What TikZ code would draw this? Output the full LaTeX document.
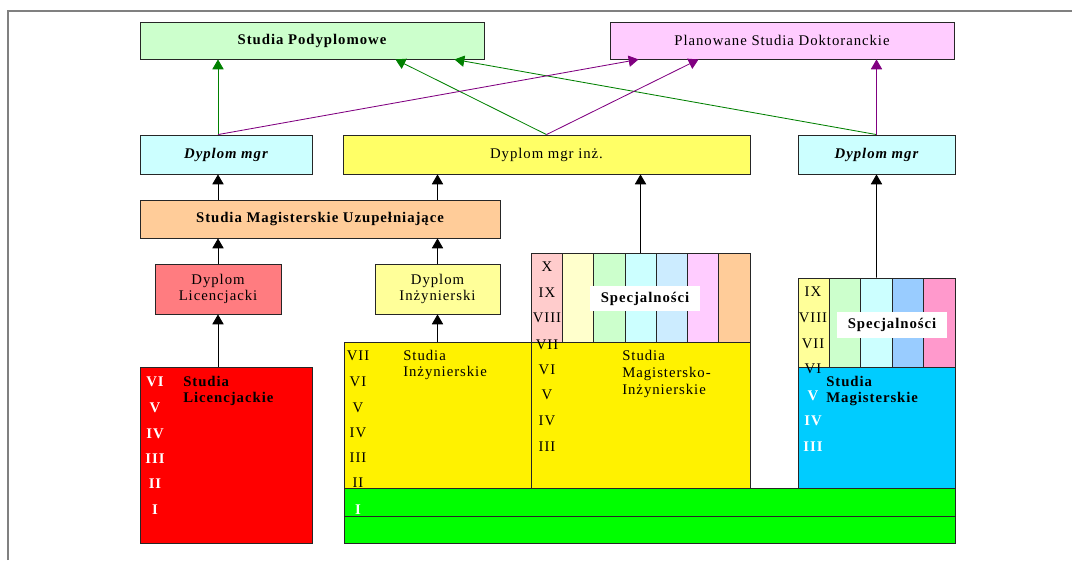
\documentclass[tikz,border=0pt]{standalone}
\usepackage{fontspec}
\setmainfont{Liberation Serif}[LetterSpace=6.5]
\usetikzlibrary{arrows.meta,calc}

\definecolor{podC}{HTML}{CCFFCC}
\definecolor{planC}{HTML}{FFCCFF}
\definecolor{mgrC}{HTML}{CCFFFF}
\definecolor{inzC}{HTML}{FFFF66}
\definecolor{uzuC}{HTML}{FFCC99}
\definecolor{dlicC}{HTML}{FF7C80}
\definecolor{dinzC}{HTML}{FFFF99}
\definecolor{arrG}{HTML}{008000}
\definecolor{arrP}{HTML}{800080}
\definecolor{cyanC}{HTML}{00CCFF}

\begin{document}
\begin{tikzpicture}[x=0.025cm, y=-0.025cm,
	every node/.style={font=\fontsize{10.5}{12}\selectfont},
	box/.style={draw=black!85, line width=0.6pt, inner sep=0pt, align=center},
	col/.style={box, line width=0.5pt, minimum height=2.225cm},
	spec/.style={fill=white, inner sep=0pt, minimum width=2.75cm, font=\fontsize{10.5}{12}\selectfont\bfseries},
	num/.style={inner sep=0pt},
	wnum/.style={num, text=white, font=\fontsize{10.5}{12}\selectfont\bfseries},
	txt/.style={inner sep=0pt, align=left, anchor=west},
	txtB/.style={txt, font=\fontsize{10.5}{12}\selectfont\bfseries},
	link/.style={-{Triangle[length=7pt,width=8pt]}, line width=0.6pt}]

	\useasboundingbox (0,0) rectangle (1072,560);
	\draw[gray, line width=1pt] (8,560) -- (8,11) -- (1072,11);

	% top row
	\node[box, fill=podC, minimum width=8.6cm, minimum height=0.925cm] (pod) at (312,40.5) {\bfseries Studia Podyplomowe};
	\node[box, fill=planC, minimum width=8.6cm, minimum height=0.925cm] (plan) at (782,40.5) {Planowane Studia Doktoranckie};

	% diplomas
	\node[box, fill=mgrC, minimum width=4.3cm, minimum height=0.975cm] (mgrL) at (226,154.5) {\bfseries\itshape Dyplom mgr};
	\node[box, fill=inzC, minimum width=10.175cm, minimum height=0.975cm] (mgrI) at (546.5,154.5) {Dyplom mgr inż.};
	\node[box, fill=mgrC, minimum width=3.925cm, minimum height=0.975cm] (mgrR) at (876.5,154.5) {\bfseries\itshape Dyplom mgr};

	\node[box, fill=uzuC, minimum width=9cm, minimum height=0.95cm] (uzu) at (320,219) {\bfseries Studia Magisterskie Uzupełniające};
	\node[box, fill=dlicC, minimum width=3.15cm, minimum height=1.25cm] (dlic) at (218,289) {Dyplom\\Licencjacki};
	\node[box, fill=dinzC, minimum width=3.125cm, minimum height=1.25cm] (dinz) at (437.5,289) {Dyplom\\Inżynierski};

	% studies
	\node[box, fill=red, minimum width=4.3cm, minimum height=4.4cm] (lic) at (226,455) {};
	\node[box, fill=yellow, minimum width=4.675cm, minimum height=3.65cm] (inz) at (437.5,415) {};
	\node[box, fill=yellow, minimum width=5.475cm, minimum height=3.65cm] (mi) at (640.5,415) {};
	\node[box, fill=cyanC, minimum width=3.925cm, minimum height=3.025cm] (mag) at (876.5,427.5) {};

	\foreach \c [count=\i from 0] in {FFCCCC,FFFFCC,CCFFCC,CCFFFF,CCECFF,FFCCFF,FFCC99}{
		\definecolor{colC}{HTML}{\c}
		\node[col, fill=colC, minimum width=0.782cm] (sm\i) at ({531+31.29*(\i+0.5)},297.5) {};
	}
	\foreach \c [count=\i from 0] in {FFFF99,CCFFCC,CCFFFF,99CCFF,FF99CC}{
		\definecolor{colC}{HTML}{\c}
		\node[col, fill=colC, minimum width=0.785cm] (sr\i) at ({798+31.4*(\i+0.5)},322.5) {};
	}

	\node[spec, minimum height=0.625cm] (specLabM) at (645,298.5) {Specjalności};
	\node[spec, minimum height=0.65cm] (specLabR) at (892,325) {Specjalności};

	\node[txtB] (licT) at (183,391) {Studia\\Licencjackie};
	\node[txt] (inzT) at (403,365) {Studia\\Inżynierskie};
	\node[txt] (miT) at (622,374) {Studia\\Magistersko-\\Inżynierskie};
	\node[txtB] (magT) at (826,391) {Studia\\Magisterskie};

	% semesters
	\foreach \n/\y in {VI/382,V/408,IV/434,III/459,II/484,I/510}
	\node[wnum] (licS\n) at (155,\y) {\n};
	\foreach \n/\y in {VII/356,VI/382,V/408,IV/433,III/458,II/483}
	\node[num] (inzS\n) at (358,\y) {\n};
	\foreach \n/\y in {X/267,IX/293,VIII/318,VII/345,VI/370,V/395,IV/421,III/447}
	\node[num] (miS\n) at (547,\y) {\n};
	\foreach \n/\y in {IX/292,VIII/318,VII/344,VI/369}
	\node[num] (magS\n) at (813,\y) {\n};
	\foreach \n/\y in {V/396,IV/421,III/447}
	\node[wnum] (magS\n) at (813,\y) {\n};

	\node[box, fill=green, minimum width=15.275cm, minimum height=0.7cm] (yr1) at (649.5,502) {};
	\node[box, fill=green, minimum width=15.275cm, minimum height=0.675cm] (base) at (649.5,529.5) {};
	\node[wnum] (inzSI) at (358,510) {I};

	% black arrows
	\draw[link] (dlic.south |- lic.north) -- (dlic.south);
	\draw[link] (dlic.north) -- (dlic.north |- uzu.south);
	\draw[link] (dlic.north |- uzu.north) -- (dlic.north |- mgrL.south);
	\draw[link] (dinz.south |- inz.north) -- (dinz.south);
	\draw[link] (dinz.north) -- (dinz.north |- uzu.south);
	\draw[link] (dinz.north |- uzu.north) -- (dinz.north |- mgrI.south);
	\draw[link] (sm3.north) -- (sm3.north |- mgrI.south);
	\draw[link] (sr2.north) -- (mgrR.south);

	% green and purple arrows
	\draw[link, arrG] (dlic.north |- mgrL.north) -- (dlic.north |- pod.south);
	\draw[link, arrG] (mgrI.north) -- ($(pod.south east)+(-89,0)$);
	\draw[link, arrG] (mgrR.north) -- ($(pod.south east)+(-30,0)$);
	\draw[link, arrP] (dlic.north |- mgrL.north) -- ($(plan.south west)+(29,0)$);
	\draw[link, arrP] (mgrI.north) -- ($(plan.south west)+(89,0)$);
	\draw[link, arrP] (mgrR.north) -- (mgrR.north |- plan.south);
\end{tikzpicture}
\end{document}
